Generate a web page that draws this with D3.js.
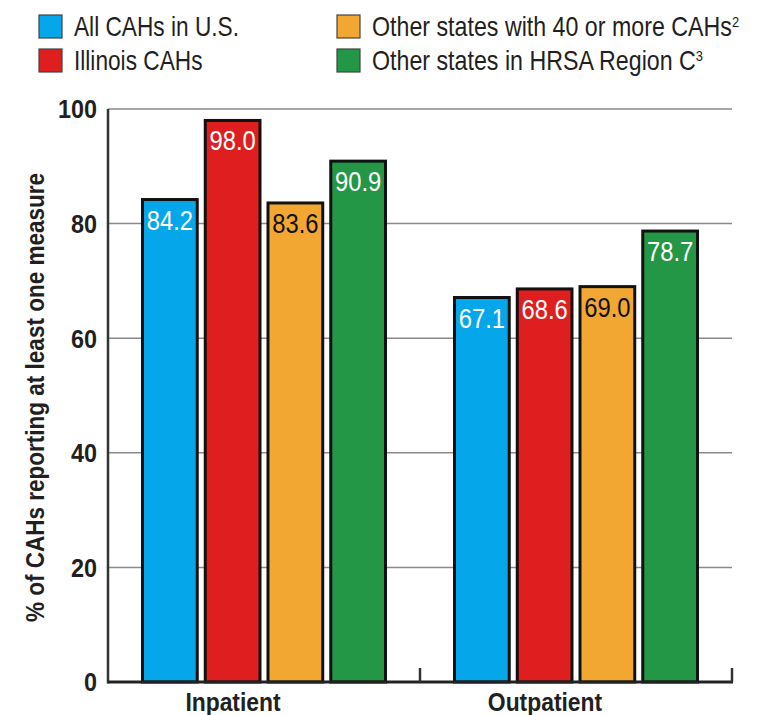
<!DOCTYPE html>
<html>
<head>
<meta charset="utf-8">
<script src="https://cdn.jsdelivr.net/npm/d3@7"></script>
<style>
  body { margin: 0; background: #fff; }
  text { font-family: "Liberation Sans", Arial, sans-serif; }
</style>
</head>
<body>
<div class="customChart"></div>
<script>
const groups = ["Inpatient", "Outpatient"];
const series = ["All CAHs in U.S.", "Illinois CAHs", "Other states with 40 or more CAHs", "Other states in HRSA Region C"];
const seriesSup = ["", "", "2", "3"];
const colors = ["#05a6ea", "#df1f1f", "#f2a733", "#249746"];
const labelColors = ["#fff", "#fff", "#111", "#fff"];
const inpatient = [84.2, 98.0, 83.6, 90.9];
const outpatient = [67.1, 68.6, 69.0, 78.7];
const yTicks = [0, 20, 40, 60, 80, 100];

const values = [inpatient, outpatient];
const data = [];
groups.forEach((g, gi) => series.forEach((s, si) => data.push({group: g, series: s, i: si, value: values[gi][si]})));

const width = 762, height = 715;
const margin = ({top: 109, right: 30, bottom: 33, left: 108});

// no condensed font installed, so squeeze text horizontally
function squeeze(k, xf, yf) {
	return (d, i) => `translate(${xf(d, i)},${yf(d, i)}) scale(${k},1)`;
}

const svg = d3.select('.customChart')
	.append('svg')
	.attr('width', width)
	.attr('height', height);

const x0 = d3.scaleBand()
	.domain(groups)
	.range([margin.left, width - margin.right]);

const x1 = d3.scaleBand()
	.domain(series)
	.range([33, x0.bandwidth() - 33])
	.paddingInner(0.08);

const y = d3.scaleLinear()
	.domain([0, 100])
	.range([height - margin.bottom, margin.top]);

// gridlines
svg.append("g")
	.selectAll("line")
	.data(yTicks.filter(d => d > 0))
	.join("line")
	.attr("x1", margin.left)
	.attr("x2", width - margin.right)
	.attr("y1", d => y(d))
	.attr("y2", d => y(d))
	.attr("stroke", "#8a8a8a")
	.attr("stroke-width", 1.5);

// y tick labels
svg.append("g")
	.attr("font-weight", "bold")
	.attr("font-size", 26)
	.attr("fill", "#231f20")
	.attr("text-anchor", "end")
	.selectAll("text")
	.data(yTicks)
	.join("text")
	.attr("transform", squeeze(0.9, () => margin.left - 11, d => y(d)))
	.attr("dy", "0.36em")
	.text(d => d);

// bars
svg.append("g")
	.selectAll("rect")
	.data(data)
	.join("rect")
	.attr("x", d => x0(d.group) + x1(d.series) + 1.5)
	.attr("y", d => y(d.value))
	.attr("width", x1.bandwidth() - 3)
	.attr("height", d => y(0) - y(d.value))
	.attr("fill", d => colors[d.i])
	.attr("stroke", "#111")
	.attr("stroke-width", 3);

// value labels
svg.append("g")
	.attr("font-size", 27)
	.attr("text-anchor", "middle")
	.selectAll("text")
	.data(data)
	.join("text")
	.attr("transform", squeeze(0.88, d => x0(d.group) + x1(d.series) + x1.bandwidth() / 2, d => y(d.value) + 30))
	.attr("fill", d => labelColors[d.i])
	.text(d => d.value.toFixed(1));

// axes lines
svg.append("line")
	.attr("x1", margin.left).attr("x2", margin.left)
	.attr("y1", y(100)).attr("y2", y(0) + 1.5)
	.attr("stroke", "#333").attr("stroke-width", 2.5);

svg.append("line")
	.attr("x1", margin.left).attr("x2", width - margin.right + 1)
	.attr("y1", y(0)).attr("y2", y(0))
	.attr("stroke", "#222").attr("stroke-width", 3);

svg.append("g")
	.selectAll("line")
	.data(groups)
	.join("line")
	.attr("x1", d => x0(d) + x0.bandwidth())
	.attr("x2", d => x0(d) + x0.bandwidth())
	.attr("y1", y(0))
	.attr("y2", y(0) - 14)
	.attr("stroke", "#333")
	.attr("stroke-width", 2.5);

// group labels
svg.append("g")
	.attr("font-weight", "bold")
	.attr("font-size", 26)
	.attr("fill", "#231f20")
	.attr("text-anchor", "middle")
	.selectAll("text")
	.data(groups)
	.join("text")
	.attr("transform", squeeze(0.88, d => x0(d) + x0.bandwidth() / 2 - 31, () => height - 4))
	.text(d => d);

// y axis title
svg.append("text")
	.attr("transform", `translate(44, ${(y(0) + y(100)) / 2 + 2}) rotate(-90) scale(0.85,1)`)
	.attr("text-anchor", "middle")
	.attr("font-weight", "bold")
	.attr("font-size", 26.5)
	.attr("fill", "#231f20")
	.text("% of CAHs reporting at least one measure");

// legend
const legend = svg.append("g")
	.selectAll("g")
	.data(series)
	.join("g")
	.attr("transform", (d, i) => `translate(${i < 2 ? 39 : 337}, ${i % 2 === 0 ? 15 : 49})`);

legend.append("rect")
	.attr("width", 23)
	.attr("height", 23)
	.attr("fill", (d, i) => colors[i])
	.attr("stroke", "#444")
	.attr("stroke-width", 1.2);

const lt = legend.append("text")
	.attr("transform", (d, i) => `translate(35,21) scale(${i < 2 ? 0.84 : 0.86},1)`)
	.attr("font-size", 27)
	.attr("fill", "#231f20")
	.text(d => d);

lt.append("tspan")
	.attr("font-size", 15)
	.attr("dy", -9)
	.text((d, i) => seriesSup[i]);
</script>
</body>
</html>
